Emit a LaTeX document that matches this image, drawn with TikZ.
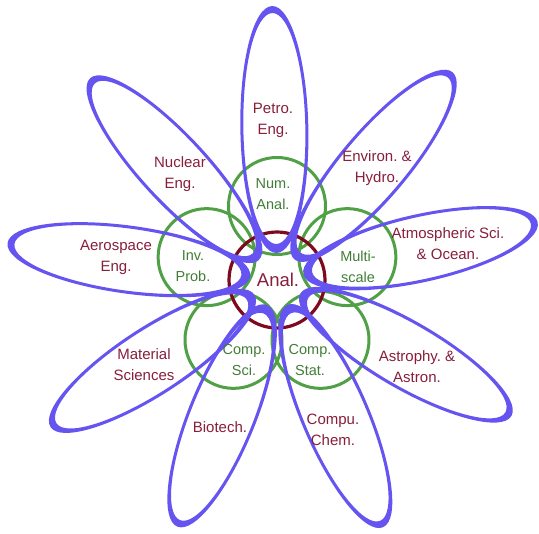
\documentclass[tikz,border=0pt]{standalone}
\usepackage{fontspec}
\usetikzlibrary{calc}
\setmainfont{Liberation Sans}
\frenchspacing
\definecolor{petalc}{RGB}{102,84,240}
\definecolor{ringc}{RGB}{80,160,70}
\definecolor{corec}{RGB}{125,10,30}
\definecolor{labc}{RGB}{135,30,60}
\definecolor{glabc}{RGB}{65,125,55}
\tikzset{
  petalfill/.style={fill=petalc, even odd rule},
  ring/.style={draw=ringc, line width=3pt},
  core/.style={draw=corec, line width=3.2pt},
  outlab/.style={text=labc, align=center, inner sep=0pt, font=\fontsize{15}{21}\selectfont},
  inlab/.style={text=glabc, align=center, inner sep=0pt, font=\fontsize{14.5}{21}\selectfont},
}
\newcommand\mypetal[2]{%
  \fill[petalfill, shift={(277,280)}, rotate=#1]
    ({(27+#2)/2},0) ellipse [x radius={((#2-27)/2)*1pt}, y radius=34pt]
    ({(27+#2)/2+1},0) ellipse [x radius={((#2-27)/2)*1pt-8pt}, y radius=31pt];}
\begin{document}
\begin{tikzpicture}[x=1pt,y=-1pt]
\useasboundingbox (0,0) rectangle (539,534);
% green circles
\foreach \a/\n in {90/na,18/ms,-54/cs,-126/sc,162/ip}{
  \draw[ring] ($(277,280)+(\a:74pt)$) circle [radius=48.5pt];
}
% core circle
\draw[core] (277,280) circle [radius=48pt];
% petals
\mypetal{91}{274}
\mypetal{49.8}{272}
\mypetal{12.5}{267}
\mypetal{-30.1}{271}
\mypetal{-66.8}{269}
\mypetal{-112}{266}
\mypetal{213}{270}
\mypetal{172.2}{272}
\mypetal{132.8}{275}
% labels
\node[outlab] (petro) at (273,120) {Petro.\\Eng.};
\node[outlab] (nucl) at (180,174) {Nuclear\\Eng.};
\node[outlab] (aero) at (116,257) {Aerospace\\Eng.};
\node[outlab] (mat) at (144,365) {Material\\Sciences};
\node[outlab] (bio) at (220,427) {Biotech.};
\node[outlab] (chem) at (333,430) {Compu.\\Chem.};
\node[outlab] (astro) at (417,367) {Astrophy. \&\\Astron.};
\node[outlab] (atmo) at (448,244) {Atmospheric Sci.\\\& Ocean.};
\node[outlab] (env) at (377,168) {Environ. \&\\Hydro.};
\node[inlab] (numa) at (273,194) {Num.\\Anal.};
\node[inlab] (invp) at (193,266) {Inv.\\Prob.};
\node[inlab] (mult) at (358,267) {Multi-\\scale};
\node[inlab] (csci) at (244,360) {Comp.\\Sci.};
\node[inlab] (csta) at (310,360) {Comp.\\Stat.};
\node[text=labc, inner sep=0pt, font=\fontsize{18.5}{22}\selectfont] (anal) at (278,280) {Anal.};
\end{tikzpicture}
\end{document}
